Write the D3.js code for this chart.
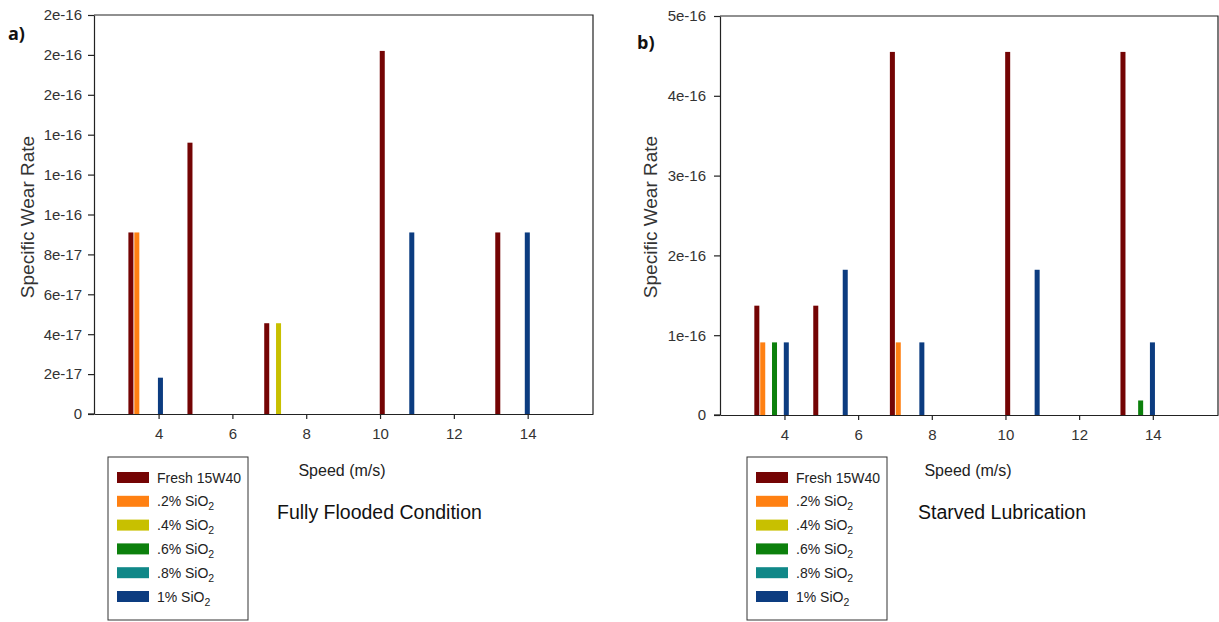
<!DOCTYPE html>
<html>
<head>
<meta charset="utf-8">
<script src="https://cdn.jsdelivr.net/npm/d3@7"></script>
<style>
  html, body { margin: 0; padding: 0; background: #fff; }
  svg { display: block; font-family: "Liberation Sans", Arial, sans-serif; }
</style>
</head>
<body>
<svg id="chart" width="1219" height="622"></svg>
<script>
// Speeds (m/s) at which each group of bars is centred
const speeds = [3.65, 5.25, 7.33, 10.46, 13.59];

// Lubricant series
const seriesNames = ["Fresh 15W40", ".2% SiO2", ".4% SiO2", ".6% SiO2", ".8% SiO2", "1% SiO2"];
const seriesColors = ["#740404", "#ff8012", "#c8c000", "#0c800c", "#108888", "#0c3c80"];

// Specific wear rate, fully flooded condition (one value per speed, 0 = no bar)
const floodedFresh = [9.1e-17, 1.36e-16, 4.55e-17, 1.82e-16, 9.1e-17];
const flooded02 = [9.1e-17, 0, 0, 0, 0];
const flooded04 = [0, 0, 4.55e-17, 0, 0];
const flooded06 = [0, 0, 0, 0, 0];
const flooded08 = [0, 0, 0, 0, 0];
const flooded10 = [1.82e-17, 0, 0, 9.1e-17, 9.1e-17];

// Specific wear rate, starved lubrication
const starvedFresh = [1.37e-16, 1.37e-16, 4.55e-16, 4.55e-16, 4.55e-16];
const starved02 = [9.1e-17, 0, 9.1e-17, 0, 0];
const starved04 = [0, 0, 0, 0, 0];
const starved06 = [9.1e-17, 0, 0, 0, 1.82e-17];
const starved08 = [0, 0, 0, 0, 0];
const starved10 = [9.1e-17, 1.82e-16, 9.1e-17, 1.82e-16, 9.1e-17];

// Axis ticks
const xTicks = [4, 6, 8, 10, 12, 14];
const floodedYTicks = d3.range(0, 11).map(i => i * 2e-17);
const starvedYTicks = d3.range(0, 6).map(i => i * 1e-16);

const svg = d3.select("#chart");
const fmt = v => (Math.abs(v) < 1e-30 ? "0" : d3.format(".0e")(v));
const slot = 0.16;      // spacing between bars of a group, in speed units
const barHalf = 0.068;  // half bar width, in speed units

function panel(opt) {
  const g = svg.append("g");
  const x = d3.scaleLinear().domain([2.25, 15.77]).range([opt.left, opt.right]);
  const y = d3.scaleLinear().domain([0, opt.yMax]).range([opt.bottom, opt.top]);

  // bars
  const bars = [];
  opt.series.forEach((vals, si) => {
    vals.forEach((v, k) => {
      if (v > 0) bars.push({ si, speed: speeds[k] + (si - 2.5) * slot, v });
    });
  });
  g.selectAll("rect.bar").data(bars).join("rect")
    .attr("class", "bar")
    .attr("x", d => x(d.speed - barHalf))
    .attr("width", d => x(d.speed + barHalf) - x(d.speed - barHalf))
    .attr("y", d => y(d.v))
    .attr("height", d => y(0) - y(d.v))
    .attr("fill", d => seriesColors[d.si]);

  // frame (top and right)
  g.append("path")
    .attr("d", `M${opt.left},${opt.top}H${opt.right}V${opt.bottom}`)
    .attr("fill", "none").attr("stroke", "#222").attr("stroke-width", 1.2);

  // axes
  const xa = g.append("g").attr("transform", `translate(0,${opt.bottom})`)
    .call(d3.axisBottom(x).tickValues(xTicks).tickSize(5).tickPadding(9).tickSizeOuter(0));
  const ya = g.append("g").attr("transform", `translate(${opt.left},0)`)
    .call(d3.axisLeft(y).tickValues(opt.yTicks).tickFormat(fmt).tickSize(6).tickPadding(opt.yPad).tickSizeOuter(0));
  [xa, ya].forEach(a => {
    a.select(".domain").attr("stroke", "#222").attr("stroke-width", 1.2);
    a.selectAll(".tick line").attr("stroke", "#222").attr("stroke-width", 1.2);
    a.selectAll(".tick text").attr("fill", "#333").attr("font-size", 15)
      .attr("font-family", "'Liberation Sans', Arial, sans-serif");
  });
  // extend the baseline slightly left of the y axis
  g.append("line").attr("x1", opt.left - 6).attr("x2", opt.left)
    .attr("y1", opt.bottom).attr("y2", opt.bottom).attr("stroke", "#222").attr("stroke-width", 1.2);

  // y label
  g.append("text")
    .attr("transform", `translate(${opt.yLabelX},217) rotate(-90)`)
    .attr("text-anchor", "middle").attr("dominant-baseline", "central")
    .attr("font-size", 19).attr("fill", "#333")
    .text("Specific Wear Rate");

  // x label
  g.append("text").attr("x", opt.xLabelX).attr("y", 476)
    .attr("text-anchor", "middle").attr("font-size", 16).attr("fill", "#222")
    .text("Speed (m/s)");

  // condition caption
  g.append("text").attr("x", opt.captionX).attr("y", 519)
    .attr("font-size", 19.5).attr("fill", "#111")
    .text(opt.caption);

  // panel letter
  g.append("text").attr("x", opt.letterX).attr("y", opt.letterY)
    .attr("font-size", 18).attr("font-weight", "bold").attr("fill", "#111")
    .attr("font-family", "'Open Sans', 'Noto Sans', sans-serif")
    .text(opt.letter);

  // legend
  const lg = g.append("g");
  lg.append("rect").attr("x", opt.legendX).attr("y", 457)
    .attr("width", 140).attr("height", 163)
    .attr("fill", "#fff").attr("stroke", "#333").attr("stroke-width", 1);
  seriesNames.forEach((name, i) => {
    const cy = 477.5 + i * 23.8;
    lg.append("rect").attr("x", opt.legendX + 9).attr("y", cy - 5.5)
      .attr("width", 32).attr("height", 11).attr("fill", seriesColors[i]);
    const t = lg.append("text").attr("x", opt.legendX + 49).attr("y", cy + 5)
      .attr("font-size", 14).attr("fill", "#222");
    if (name.endsWith("SiO2")) {
      t.append("tspan").text(name.slice(0, -1));
      t.append("tspan").attr("dy", 4).attr("font-size", 10.5).text("2");
    } else {
      t.text(name);
    }
  });
}

panel({
  left: 94, right: 593, top: 15, bottom: 414,
  yMax: 2e-16, yTicks: floodedYTicks, yPad: 6,
  series: [floodedFresh, flooded02, flooded04, flooded06, flooded08, flooded10],
  yLabelX: 27, xLabelX: 342, captionX: 277, caption: "Fully Flooded Condition",
  letter: "a)", letterX: 8, letterY: 40, legendX: 108
});

panel({
  left: 720, right: 1218, top: 16, bottom: 415,
  yMax: 5e-16, yTicks: starvedYTicks, yPad: 8,
  series: [starvedFresh, starved02, starved04, starved06, starved08, starved10],
  yLabelX: 650, xLabelX: 968, captionX: 918, caption: "Starved Lubrication",
  letter: "b)", letterX: 637, letterY: 49, legendX: 747
});
</script>
</body>
</html>
